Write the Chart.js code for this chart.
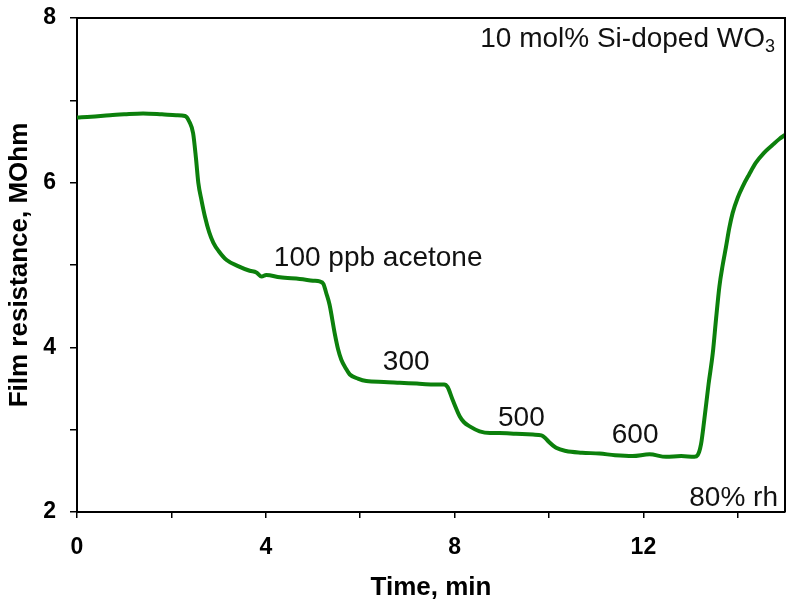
<!DOCTYPE html>
<html>
<head>
<meta charset="utf-8">
<script src="https://cdn.jsdelivr.net/npm/chart.js@4.4.1/dist/chart.umd.min.js"></script>
<style>
  html, body { margin: 0; padding: 0; background: #ffffff; }
  #wrap { width: 800px; height: 612px; }
</style>
</head>
<body>
<div id="wrap"><canvas id="c" width="800" height="612"></canvas></div>
<script>
// ---- data ----
const timeMin = [0, 0.3, 0.7, 1.0, 1.4, 1.8, 2.1, 2.29, 2.38, 2.46, 2.52, 2.57, 2.64, 2.71, 2.8, 2.89, 3.0, 3.17, 3.4, 3.66, 3.8, 3.91, 4.01, 4.3, 4.72, 5.0, 5.14, 5.22, 5.28, 5.35, 5.46, 5.53, 5.6, 5.7, 5.78, 5.95, 6.13, 6.5, 6.84, 7.2, 7.54, 7.78, 7.85, 7.96, 8.11, 8.2, 8.32, 8.53, 8.75, 8.95, 9.3, 9.66, 9.84, 9.92, 10.0, 10.15, 10.36, 10.7, 11.07, 11.4, 11.77, 12.13, 12.48, 12.8, 13.08, 13.15, 13.22, 13.29, 13.38, 13.47, 13.54, 13.61, 13.68, 13.75, 13.82, 13.89, 14.0, 14.1, 14.24, 14.38, 14.55, 14.74, 14.88, 15.0];
const resistance = [6.79, 6.80, 6.82, 6.83, 6.84, 6.83, 6.82, 6.81, 6.74, 6.60, 6.30, 6.00, 5.78, 5.59, 5.40, 5.27, 5.17, 5.06, 4.99, 4.93, 4.91, 4.86, 4.88, 4.85, 4.83, 4.81, 4.80, 4.77, 4.66, 4.52, 4.17, 3.98, 3.85, 3.74, 3.67, 3.62, 3.59, 3.58, 3.57, 3.56, 3.55, 3.55, 3.52, 3.36, 3.16, 3.09, 3.04, 2.98, 2.96, 2.96, 2.95, 2.94, 2.93, 2.90, 2.85, 2.78, 2.74, 2.72, 2.71, 2.69, 2.68, 2.70, 2.67, 2.68, 2.67, 2.69, 2.82, 3.12, 3.55, 3.93, 4.35, 4.74, 5.00, 5.22, 5.45, 5.63, 5.82, 5.95, 6.10, 6.24, 6.36, 6.46, 6.53, 6.58];
const xTickValues = [0, 2, 4, 6, 8, 10, 12, 14];
const xTickLabels = ['0', '', '4', '', '8', '', '12', ''];
const yTickValues = [2, 3, 4, 5, 6, 7, 8];
const yTickLabels = ['2', '', '4', '', '6', '', '8'];
const xTitle = 'Time, min';
const yTitle = 'Film resistance, MOhm';
const annotationTexts = ['100 ppb acetone', '300', '500', '600', '80% rh'];
const sampleLabel = '10 mol% Si-doped WO';
const sampleSub = '3';

const FONT = "Arial, 'Liberation Sans', sans-serif";

const points = timeMin.map((t, i) => ({ x: t, y: resistance[i] }));

const annotPlugin = {
  id: 'annot',
  afterDraw(chart) {
    const ctx = chart.ctx;
    const ca = chart.chartArea;
    const xs = chart.scales.x, ys = chart.scales.y;
    ctx.save();
    // frame (top and right sides)
    ctx.strokeStyle = '#000';
    ctx.lineWidth = 2;
    ctx.beginPath();
    ctx.moveTo(ca.left, ca.top);
    ctx.lineTo(ca.right, ca.top);
    ctx.lineTo(ca.right, ca.bottom);
    ctx.stroke();

    ctx.fillStyle = '#111';
    ctx.textBaseline = 'alphabetic';
    const f = '28px ' + FONT;
    const fs = '18px ' + FONT;
    ctx.font = f;
    const mainW = ctx.measureText(sampleLabel).width;
    ctx.font = fs;
    const subW = ctx.measureText(sampleSub).width;
    const rightEdge = ca.right - 10;
    const by = ca.top + 29;
    ctx.font = f;
    ctx.textAlign = 'left';
    ctx.fillText(sampleLabel, rightEdge - subW - mainW, by);
    ctx.font = fs;
    ctx.fillText(sampleSub, rightEdge - subW, by + 5);

    ctx.font = f;
    ctx.textAlign = 'left';
    ctx.fillText(annotationTexts[0], xs.getPixelForValue(4.17), ys.getPixelForValue(4.99));
    ctx.fillText(annotationTexts[1], xs.getPixelForValue(6.48), ys.getPixelForValue(3.725));
    ctx.fillText(annotationTexts[2], xs.getPixelForValue(8.92), ys.getPixelForValue(3.045));
    ctx.fillText(annotationTexts[3], xs.getPixelForValue(11.33), ys.getPixelForValue(2.84));
    ctx.textAlign = 'right';
    ctx.fillText(annotationTexts[4], ca.right - 7, ca.bottom - 6);
    ctx.restore();
  }
};

new Chart(document.getElementById('c'), {
  type: 'line',
  data: {
    datasets: [{
      data: points,
      borderColor: '#0c800c',
      borderWidth: 4,
      pointRadius: 0,
      cubicInterpolationMode: 'monotone',
      fill: false
    }]
  },
  options: {
    responsive: false,
    animation: false,
    devicePixelRatio: 1,
    layout: { padding: { left: 0, top: 18, right: 15, bottom: 0 } },
    plugins: { legend: { display: false }, tooltip: { enabled: false } },
    scales: {
      x: {
        type: 'linear',
        min: 0, max: 15,
        afterBuildTicks(scale) { scale.ticks = xTickValues.map(v => ({ value: v })); },
        afterFit(scale) { scale.height = 100; scale.paddingLeft = 0; scale.paddingRight = 0; },
        ticks: {
          autoSkip: false,
          maxRotation: 0,
          padding: 16,
          color: '#000',
          font: { family: FONT, size: 23, weight: 'bold' },
          callback: (v, i) => xTickLabels[i]
        },
        grid: { display: true, drawOnChartArea: false, drawTicks: true, tickLength: 6, color: '#000', lineWidth: 1.5 },
        border: { display: true, color: '#000', width: 2 },
        title: { display: true, text: xTitle, color: '#000', font: { family: FONT, size: 26, weight: 'bold' }, padding: { top: 0, bottom: 9 } }
      },
      y: {
        type: 'linear',
        min: 2, max: 8,
        afterBuildTicks(scale) { scale.ticks = yTickValues.map(v => ({ value: v })); },
        afterFit(scale) { scale.width = 77; scale.paddingTop = 0; scale.paddingBottom = 0; },
        ticks: {
          autoSkip: false,
          padding: 14,
          color: '#000',
          font: { family: FONT, size: 23, weight: 'bold' },
          callback: (v, i) => yTickLabels[i]
        },
        grid: { display: true, drawOnChartArea: false, drawTicks: true, tickLength: 7, color: '#000', lineWidth: 1.5 },
        border: { display: true, color: '#000', width: 2 },
        title: { display: true, text: yTitle, color: '#000', font: { family: FONT, size: 26, weight: 'bold' }, padding: { top: 4, bottom: 0 } }
      }
    }
  },
  plugins: [annotPlugin]
});
</script>
</body>
</html>
